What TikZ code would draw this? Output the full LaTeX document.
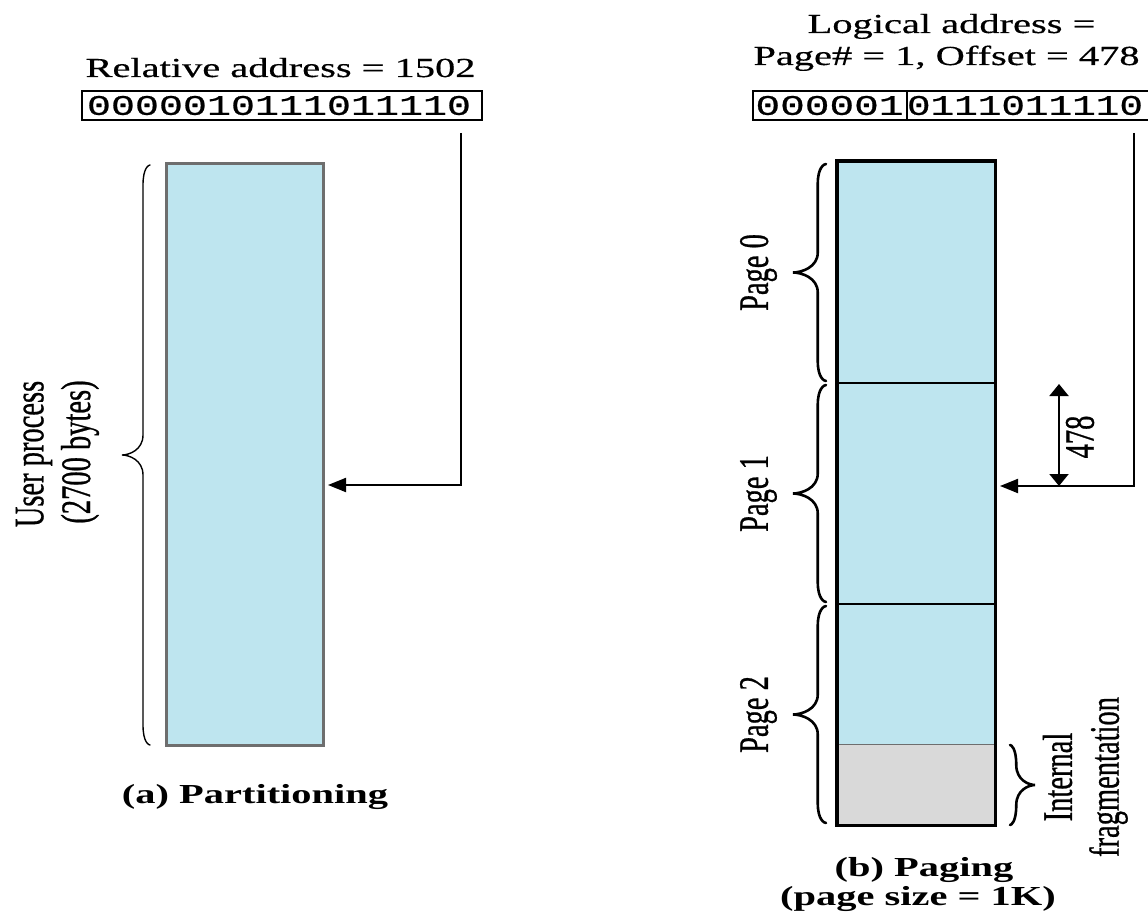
\documentclass[tikz,border=0pt]{standalone}
\usepackage{fontspec}
\setmainfont{Liberation Serif}
\newfontfamily\heavyserif{Liberation Serif}[FakeBold=0.8]
\newfontfamily\hdrserif{Liberation Serif}[FakeBold=0.4]
\newfontfamily\digitfont{Liberation Mono}[FakeBold=0.6]
\usetikzlibrary{arrows.meta}
\definecolor{procblue}{RGB}{190,229,239}
\definecolor{fraggray}{RGB}{217,217,217}
\definecolor{edgegray}{RGB}{110,110,110}
\newcommand{\hlabel}[1]{\scalebox{1.47}[1]{#1}}
\newcommand{\vlabel}[1]{\rotatebox{90}{\scalebox{1}[1.47]{#1}}}
\newcommand{\vbrace}[5]{%
 \pgfmathsetmacro{\brM}{(#2+#3)/2}%
 \pgfmathsetmacro{\brX}{#1-0.25*(#4)}%
 \pgfmathsetmacro{\brT}{#1-(#4)}%
 \pgfmathsetmacro{\brC}{#1-0.75*(#4)}%
 \pgfmathsetmacro{\brE}{#1-0.05*(#4)}%
 \draw[line width=#5, line cap=round] (#1,#2) .. controls (\brE,#2) and (\brX,#2+3) .. (\brX,#2+20) -- (\brX,\brM-20) .. controls (\brX,\brM-5) and (\brC,\brM) .. (\brT,\brM) .. controls (\brC,\brM) and (\brX,\brM+5) .. (\brX,\brM+20) -- (\brX,#3-20) .. controls (\brX,#3-3) and (\brE,#3) .. (#1,#3);
}
\begin{document}
\begin{tikzpicture}[x=1pt,y=-1pt,
  txt/.style={inner sep=0pt, font=\fontsize{27.5}{33}\hdrserif},
  captxt/.style={inner sep=0pt, font=\fontsize{27.5}{33}\selectfont\bfseries},
  rtxt/.style={inner sep=0pt, font=\fontsize{28.5}{34}\heavyserif},
  bits/.style={inner sep=0pt},
  binbox/.style={draw=black, line width=1.6pt, inner sep=0pt, minimum height=29pt},
  cell/.style={draw=black, line width=2.4pt, fill=procblue, inner sep=0pt, minimum width=157pt},
  conn/.style={line width=2pt, -{Triangle[length=18pt,width=14pt]}},
  offarrow/.style={line width=2pt, {Triangle[length=12pt,width=19pt]}-{Triangle[length=12pt,width=19pt]}},
]
\clip (0,0) rectangle (1148,915);
\fill[white] (0,0) rectangle (1148,915);

% ---------- (a) Partitioning ----------
\node[txt, anchor=base] (relhdr) at (280.5,77) {\hlabel{Relative address = 1502}};
\node[binbox, minimum width=400pt] (lbin) at (282,105.5) {};
\node[bits] (lbits) at (279,105.5) {\resizebox{384pt}{19pt}{\digitfont 0000010111011110}};

\node[draw=edgegray, line width=3pt, fill=procblue, inner sep=0pt,
      minimum width=157pt, minimum height=582pt] (proc) at (244.5,454) {};

\vbrace{150}{165}{745}{28}{1.4pt}
\node[rtxt] (uplabel) at (34,454) {\vlabel{User process}};
\node[rtxt] (bytelabel) at (80,452) {\vlabel{(2700 bytes)}};

\coordinate (lsrc) at (461,133);
\coordinate (ldst) at (328,485);
\draw[conn] (lsrc) |- (ldst);

\node[captxt, anchor=base] (capa) at (255,803) {\hlabel{(a) Partitioning}};

% ---------- (b) Paging ----------
\node[txt, anchor=base] (loghdr1) at (951.5,33) {\hlabel{Logical address =}};
\node[txt, anchor=base] (loghdr2) at (946.5,65) {\hlabel{Page\# = 1, Offset = 478}};
\node[binbox, minimum width=154pt] (pbox) at (830,105.5) {};
\node[binbox, minimum width=258pt] (obox) at (1036,105.5) {};
\node[bits] (pbits) at (829.5,105.5) {\resizebox{148pt}{19pt}{\digitfont 000001}};
\node[bits] (obits) at (1025,105.5) {\resizebox{236pt}{19pt}{\digitfont 0111011110}};

\node[cell, minimum height=221pt] (page0) at (916.5,272.5) {};
\node[cell, minimum height=221pt] (page1) at (916.5,493.5) {};
\node[fill=procblue, inner sep=0pt, minimum width=157pt, minimum height=141pt] (page2) at (916.5,674.5) {};
\node[fill=fraggray, inner sep=0pt, minimum width=157pt, minimum height=80pt] (frag) at (916.5,785) {};
\draw[edgegray, line width=1.2pt] (frag.north west) -- (frag.north east);
\draw[line width=2.4pt] (page2.north west) rectangle (frag.south east);
\draw[line width=3pt] (page0.north west) rectangle (frag.south east);

\vbrace{826}{164}{381}{33}{2.6pt}
\vbrace{826}{385}{602}{33}{2.6pt}
\vbrace{826}{606}{823}{33}{2.6pt}
\node[rtxt] (p0label) at (758.5,272.5) {\vlabel{Page 0}};
\node[rtxt] (p1label) at (758.5,493.5) {\vlabel{Page 1}};
\node[rtxt] (p2label) at (758.5,714.5) {\vlabel{Page 2}};

\coordinate (rsrc) at (1134,133);
\coordinate (rdst) at (1000,486);
\draw[conn] (rsrc) |- (rdst);

\coordinate (otop) at (1059,384);
\coordinate (obot) at (1059,486);
\draw[offarrow] (otop) -- (obot);
\node[rtxt] (offlabel) at (1080,437) {\vlabel{478}};

\vbrace{1010}{745}{825}{-25}{2.6pt}
\node[rtxt] (intlabel) at (1057.5,777) {\vlabel{Internal}};
\node[rtxt] (fraglabel) at (1108.5,777) {\vlabel{fragmentation}};

\node[captxt, anchor=base] (capb) at (924,876) {\hlabel{(b) Paging}};
\node[captxt, anchor=base] (capb2) at (918,905) {\hlabel{(page size = 1K)}};
\end{tikzpicture}
\end{document}
